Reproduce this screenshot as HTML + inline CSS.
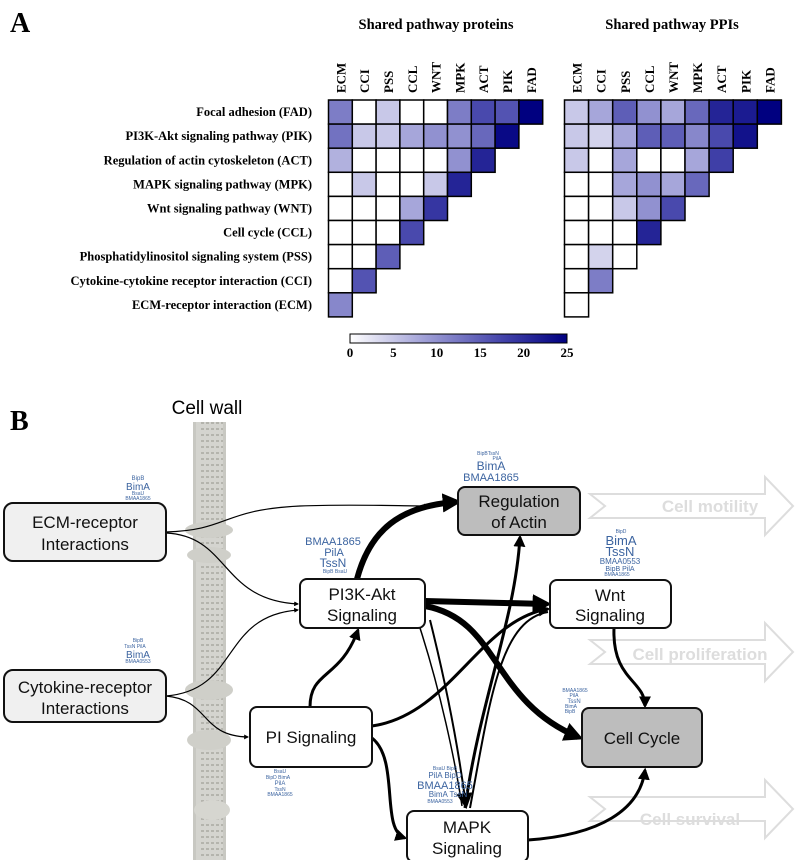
<!DOCTYPE html>
<html><head><meta charset="utf-8"><style>
body{margin:0;background:#fff}
svg{display:block}
.rl{font:bold 12.5px "Liberation Serif",serif}
.cl{font:bold 13px "Liberation Serif",serif}
.tt{font:bold 14.5px "Liberation Serif",serif}
.nd{font:17px "Liberation Sans",sans-serif;fill:#111}
.wc{font-family:"Liberation Sans",sans-serif;fill:#3c64a0}
.ph{font:bold 17px "Liberation Sans",sans-serif;fill:#ddd}
</style></head><body>
<svg id="fig" width="797" height="860" xmlns="http://www.w3.org/2000/svg">
<defs>
<marker id="ah" viewBox="0 0 10 10" refX="8" refY="5" markerWidth="4" markerHeight="4" orient="auto" markerUnits="strokeWidth"><path d="M0,0L10,5L0,10z" fill="#000"/></marker>
<marker id="ahs" viewBox="0 0 10 10" refX="8" refY="5" markerWidth="8" markerHeight="8" orient="auto" markerUnits="strokeWidth"><path d="M0,0L10,5L0,10z" fill="#000"/></marker>
<marker id="ahb" viewBox="0 0 10 10" refX="7" refY="5" markerWidth="3.2" markerHeight="3.2" orient="auto" markerUnits="strokeWidth"><path d="M0,0L10,5L0,10z" fill="#000"/></marker>
<pattern id="wall" width="33" height="6" patternUnits="userSpaceOnUse"><rect width="33" height="6" fill="#d4d4cf"/><path d="M3,3H30" stroke="#aaa9a2" stroke-width="1.5" stroke-dasharray="3,2"/></pattern>
<linearGradient id="cb" x1="0" x2="1"><stop offset="0" stop-color="#fff"/><stop offset="0.35" stop-color="#9e9ed6"/><stop offset="0.7" stop-color="#4444aa"/><stop offset="1" stop-color="#000080"/></linearGradient>
</defs>
<text x="10" y="32" style="font:bold 28px 'Liberation Serif',serif">A</text>
<text x="436" y="29" text-anchor="middle" class="tt">Shared pathway proteins</text>
<text x="672" y="29" text-anchor="middle" class="tt">Shared pathway PPIs</text>
<g id="hm"></g>
<rect x="350" y="334" width="217" height="9" fill="url(#cb)" stroke="#000"/>
<g id="cbt"></g>

<text x="10" y="430" style="font:bold 28px 'Liberation Serif',serif">B</text>
<text x="207" y="414" text-anchor="middle" style="font:19px 'Liberation Sans',sans-serif">Cell wall</text>
<g>
<rect x="193" y="422" width="33" height="438" fill="url(#wall)"/>
<rect x="193" y="422" width="3" height="438" fill="#c8c8c2"/><rect x="223" y="422" width="3" height="438" fill="#c8c8c2"/>
<ellipse cx="209" cy="530" rx="24" ry="8" fill="#cfcfc9"/><ellipse cx="209" cy="555" rx="22" ry="8" fill="#cfcfc9"/>
<ellipse cx="209" cy="690" rx="24" ry="10" fill="#cfcfc9"/><ellipse cx="209" cy="740" rx="22" ry="10" fill="#cfcfc9"/>
<ellipse cx="212" cy="810" rx="18" ry="10" fill="#d6d6d0"/>
</g>
<g fill="none" stroke="#ddd" stroke-width="2">
<path d="M590,494H765V477L793,506L765,535V518H590L605,506Z"/>
<path d="M590,640H765V623L793,652L765,681V664H590L605,652Z"/>
<path d="M590,797H765V780L793,809L765,838V821H590L605,809Z"/>
</g>
<text x="710" y="512" text-anchor="middle" class="ph">Cell motility</text>
<text x="700" y="660" text-anchor="middle" class="ph">Cell proliferation</text>
<text x="690" y="825" text-anchor="middle" class="ph">Cell survival</text>

<g fill="none" stroke="#000">
<path d="M166,532C230,530 220,510 300,506C350,504 400,506 428,506" stroke-width="1.2" marker-end="url(#ah)"/>
<path d="M166,533C230,536 220,600 298,604" stroke-width="1.2" marker-end="url(#ah)"/>
<path d="M166,696C240,690 220,616 298,610" stroke-width="1.2" marker-end="url(#ah)"/>
<path d="M166,696C210,700 200,736 248,737" stroke-width="1.2" marker-end="url(#ah)"/>
<path d="M357,579C370,530 400,506 456,502" stroke-width="6" marker-end="url(#ahb)"/>
<path d="M425,601L546,604" stroke-width="6" marker-end="url(#ahb)"/>
<path d="M425,606C500,620 490,700 578,737" stroke-width="6" marker-end="url(#ahb)"/>
<path d="M430,620C450,700 460,760 466,806" stroke-width="2" marker-end="url(#ahs)"/>
<path d="M420,628C440,690 455,760 462,806" stroke-width="1.5"/>
<path d="M310,707C310,670 340,680 358,630" stroke-width="3" marker-end="url(#ah)"/>
<path d="M372,726C450,715 480,620 548,609" stroke-width="3" marker-end="url(#ah)"/>
<path d="M372,738C400,760 380,830 405,838" stroke-width="3" marker-end="url(#ah)"/>
<path d="M465,808C480,700 515,620 520,537" stroke-width="3" marker-end="url(#ah)"/>
<path d="M470,808C490,700 500,620 548,612" stroke-width="2"/>
<path d="M528,840C600,835 640,810 645,770" stroke-width="3" marker-end="url(#ah)"/>
<path d="M614,628C612,680 645,680 645,706" stroke-width="3" marker-end="url(#ah)"/>
</g>

<g stroke="#111" stroke-width="2">
<rect x="4" y="503" width="162" height="58" rx="9" fill="#f0f0f0"/>
<rect x="4" y="670" width="162" height="52" rx="9" fill="#f0f0f0"/>
<rect x="300" y="579" width="125" height="49" rx="7" fill="#fff"/>
<rect x="250" y="707" width="122" height="60" rx="7" fill="#fff"/>
<rect x="407" y="811" width="121" height="51" rx="7" fill="#fff"/>
<rect x="458" y="487" width="122" height="48" rx="7" fill="#bdbdbd"/>
<rect x="550" y="580" width="121" height="48" rx="7" fill="#fff"/>
<rect x="582" y="708" width="120" height="59" rx="7" fill="#bdbdbd"/>
</g>
<g class="nd" text-anchor="middle">
<text x="85" y="528">ECM-receptor</text><text x="85" y="550">Interactions</text>
<text x="85" y="693">Cytokine-receptor</text><text x="85" y="714">Interactions</text>
<text x="362" y="600">PI3K-Akt</text><text x="362" y="621">Signaling</text>
<text x="311" y="743">PI Signaling</text>
<text x="467" y="833">MAPK</text><text x="467" y="854">Signaling</text>
<text x="519" y="507">Regulation</text><text x="519" y="528">of Actin</text>
<text x="610" y="601">Wnt</text><text x="610" y="621">Signaling</text>
<text x="642" y="744">Cell Cycle</text>
</g>
<g class="wc" text-anchor="middle">
<text x="138" y="480" font-size="6">BipB</text><text x="138" y="490" font-size="10">BimA</text><text x="138" y="495" font-size="5">BsaU</text><text x="138" y="500" font-size="5">BMAA1865</text>
<text x="333" y="545" font-size="11">BMAA1865</text><text x="334" y="556" font-size="11">PilA</text><text x="333" y="567" font-size="12">TssN</text><text x="335" y="573" font-size="5">BipB BsaU</text>
<text x="488" y="455" font-size="5">BipBTssN</text><text x="497" y="460" font-size="5">PilA</text><text x="491" y="470" font-size="12">BimA</text><text x="491" y="481" font-size="11">BMAA1865</text>
<text x="621" y="533" font-size="5">BipD</text><text x="621" y="545" font-size="13">BimA</text><text x="620" y="556" font-size="13">TssN</text><text x="620" y="564" font-size="8">BMAA0553</text><text x="620" y="571" font-size="7">BipB PilA</text><text x="617" y="576" font-size="5">BMAA1865</text>
<text x="138" y="642" font-size="5">BipB</text><text x="135" y="648" font-size="5">TssN PilA</text><text x="138" y="658" font-size="10">BimA</text><text x="138" y="663" font-size="5">BMAA0553</text>
<text x="280" y="773" font-size="5">BsaU</text><text x="278" y="779" font-size="5">BipD BimA</text><text x="280" y="785" font-size="6">PilA</text><text x="280" y="791" font-size="5">TssN</text><text x="280" y="796" font-size="5">BMAA1865</text>
<text x="445" y="770" font-size="5">BsaU BipB</text><text x="445" y="778" font-size="8">PilA BipD</text><text x="445" y="789" font-size="11">BMAA1865</text><text x="448" y="797" font-size="8">BimA TssN</text><text x="440" y="803" font-size="5">BMAA0553</text>
<text x="575" y="692" font-size="5">BMAA1865</text><text x="574" y="697" font-size="5">PilA</text><text x="574" y="703" font-size="6">TssN</text><text x="571" y="708" font-size="5">BimA</text><text x="570" y="713" font-size="5">BipB</text>
</g>
</svg>
<script>
const rowLabels=["Focal adhesion (FAD)","PI3K-Akt signaling pathway (PIK)","Regulation of actin cytoskeleton (ACT)","MAPK signaling pathway (MPK)","Wnt signaling pathway (WNT)","Cell cycle (CCL)","Phosphatidylinositol signaling system (PSS)","Cytokine-cytokine receptor interaction (CCI)","ECM-receptor interaction (ECM)"];
const colLabels=["ECM","CCI","PSS","CCL","WNT","MPK","ACT","PIK","FAD"];
const proteinValues=[[12,0,5,0,0,12,17,16,25],[13,5,5,8,10,10,14,24],[7,0,0,0,0,10,21],[0,5,0,0,5,21],[0,0,0,8,19],[0,0,0,17],[0,0,15],[0,16],[11]];
const ppiValues=[[5,8,15,10,8,14,21,22,25],[5,4,8,15,15,11,17,23],[5,0,8,0,0,8,18],[0,0,8,10,8,14],[0,0,5,10,17],[0,0,0,21],[0,4,0],[0,12],[0]];
const cbTicks=[0,5,10,15,20,25];
const NS="http://www.w3.org/2000/svg";
const vmax=25, cell=24.1, top0=100;
function color(v){const st=[[0,[255,255,255]],[0.35,[158,158,214]],[0.7,[68,68,170]],[1,[0,0,128]]];const t=Math.max(0,Math.min(1,v/vmax));for(let i=1;i<st.length;i++){if(t<=st[i][0]){const a=st[i-1],b=st[i],f=(t-a[0])/(b[0]-a[0]);return "rgb("+a[1].map((c,k)=>Math.round(c+(b[1][k]-c)*f)).join(",")+")";}}return "rgb(0,0,128)";}
const hm=document.getElementById('hm');
function mk(tag,attrs,parent){const e=document.createElementNS(NS,tag);for(const k in attrs)e.setAttribute(k,attrs[k]);parent.appendChild(e);return e;}
function drawHeat(vals,x0,w,name){
  const g=mk('g',{},hm);
  
  
  vals.forEach((row,r)=>row.forEach((v,c)=>{
    const rc=mk('rect',{x:x0+c*w,y:top0+r*cell,width:w,height:cell,fill:color(v),stroke:'#000','stroke-width':1.5},g);
    
    
  }));
  colLabels.forEach((l,c)=>{
    const t=mk('text',{class:'cl',transform:`translate(${x0+c*w+w/2+5},93) rotate(-90)`},g);
    t.textContent=l;
    
    
  });
}
drawHeat(proteinValues,328.5,23.8,'proteins-heatmap');
drawHeat(ppiValues,564.5,24.1,'ppis-heatmap');
rowLabels.forEach((l,r)=>{
  const t=mk('text',{class:'rl',x:312,y:top0+r*cell+cell/2+4,'text-anchor':'end'},hm);
  t.textContent=l;
  
  
});
const cbt=document.getElementById('cbt');
cbTicks.forEach(v=>{
  const t=mk('text',{class:'cl',x:350+217*v/vmax,y:357,'text-anchor':'middle'},cbt);
  t.textContent=v;
  
  
});
</script>
</body></html>
